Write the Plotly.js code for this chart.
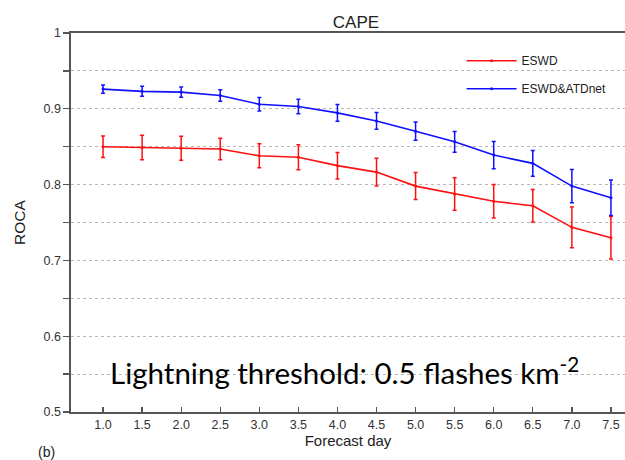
<!DOCTYPE html>
<html>
<head>
<meta charset="utf-8">
<script src="https://cdn.plot.ly/plotly-3.0.1.min.js"></script>
<style>html,body{margin:0;padding:0;background:#fff;}#chart{width:625px;height:460px;}</style>
</head>
<body>
<div id="chart"></div>
<script>
var forecastDays = [1.0, 1.5, 2.0, 2.5, 3.0, 3.5, 4.0, 4.5, 5.0, 5.5, 6.0, 6.5, 7.0, 7.5];
var eswdRoca = [0.850, 0.849, 0.848, 0.847, 0.838, 0.836, 0.825, 0.8165, 0.798, 0.7875, 0.778, 0.772, 0.7436, 0.730];
var eswdErr  = [0.0142, 0.0162, 0.0158, 0.0141, 0.0158, 0.0165, 0.0175, 0.0184, 0.0178, 0.0215, 0.022, 0.0215, 0.027, 0.028];
var atdRoca  = [0.926, 0.923, 0.922, 0.9175, 0.906, 0.903, 0.8946, 0.884, 0.8705, 0.8564, 0.839, 0.828, 0.798, 0.7826];
var atdErr   = [0.0055, 0.0066, 0.0066, 0.0075, 0.0088, 0.0095, 0.011, 0.011, 0.012, 0.0136, 0.018, 0.0169, 0.022, 0.0235];
var seriesNames = ['ESWD', 'ESWD&ATDnet'];
var yTickVals = [0.5, 0.55, 0.6, 0.65, 0.7, 0.75, 0.8, 0.85, 0.9, 0.95, 1.0];
var yTickText = ['0.5', ' ', '0.6', ' ', '0.7', ' ', '0.8', ' ', '0.9', ' ', '1'];
var xTickVals = forecastDays;
var xTickText = forecastDays.map(function(d){ return d.toFixed(1); });

var FONT = 'Liberation Sans, Arial, sans-serif';

function makeTrace(y, err, name, color, group) {
  return {
    x: forecastDays, y: y, name: name, type: 'scatter', mode: 'lines+markers',
    legendgroup: group,
    line: {color: color, width: 1.6},
    marker: {color: color, size: 3},
    error_y: {type: 'data', array: err, visible: true, color: color, thickness: 1.5, width: 2}
  };
}

var data = [
  makeTrace(eswdRoca, eswdErr, seriesNames[0], '#ff1010', 'a'),
  makeTrace(atdRoca, atdErr, seriesNames[1], '#1010ff', 'b')
];

var layout = {
  width: 625, height: 460,
  margin: {l: 71, r: 0, t: 33, b: 48},
  paper_bgcolor: '#fff', plot_bgcolor: '#fff',
  font: {family: FONT, color: '#333', size: 12},
  title: {text: 'CAPE', x: 356/625, xanchor: 'center', y: 1 - 22/460, yanchor: 'middle',
          font: {family: FONT, size: 17, color: '#222'}},
  showlegend: true,
  legend: {x: 0.705, xanchor: 'left', y: 0.965, yanchor: 'top', bgcolor: 'rgba(0,0,0,0)',
           font: {family: FONT, size: 12, color: '#222'}, traceorder: 'grouped', tracegroupgap: 9,
           itemwidth: 50},
  xaxis: {
    range: [0.59, 7.68], tickvals: xTickVals, ticktext: xTickText,
    ticks: 'inside', ticklen: 5, tickcolor: '#555', tickwidth: 1.3,
    showline: true, linecolor: '#555', linewidth: 1.6, mirror: true,
    showgrid: false, zeroline: false,
    tickfont: {family: FONT, size: 12.5, color: '#333'},
    title: {text: 'Forecast day', font: {family: FONT, size: 15, color: '#222'}, standoff: 2}
  },
  yaxis: {
    range: [0.5, 1.0], tickvals: yTickVals, ticktext: yTickText,
    ticks: 'outside', ticklen: 6, tickcolor: '#555', tickwidth: 1.3,
    showline: true, linecolor: '#555', linewidth: 1.6, mirror: false,
    showgrid: true, gridcolor: '#b8b8b8', griddash: 'dot', gridwidth: 1,
    zeroline: false,
    tickfont: {family: FONT, size: 12.5, color: '#333'},
    title: {text: 'ROCA', font: {family: FONT, size: 15.5, color: '#222'}, standoff: 14}
  },
  shapes: [{
    type: 'rect', layer: 'between', xref: 'paper', yref: 'y',
    x0: (88-71)/554, x1: (604-71)/554, y0: 0.54, y1: 0.56,
    fillcolor: '#fff', line: {width: 0}
  }],
  annotations: [
    {text: 'Lightning threshold: 0.5 flashes km<sup>-2</sup>', xref: 'paper', yref: 'y',
     x: (344-71)/554, y: 0.554, xanchor: 'center', yanchor: 'middle', showarrow: false,
     font: {family: 'Lato, sans-serif', size: 29.5, color: '#000'}},
    {text: '(b)', xref: 'paper', yref: 'paper', x: (46-71)/554, y: -(452-412)/379,
     xanchor: 'center', yanchor: 'middle', showarrow: false,
     font: {family: FONT, size: 14, color: '#222'}}
  ]
};

Plotly.newPlot('chart', data, layout, {staticPlot: true, displayModeBar: false});
</script>
</body>
</html>
